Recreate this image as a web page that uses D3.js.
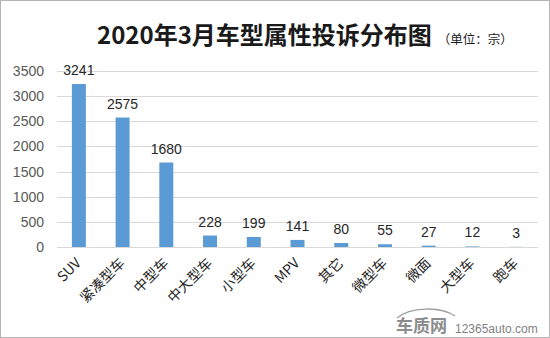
<!DOCTYPE html>
<html>
<head>
<meta charset="utf-8">
<script src="https://cdn.jsdelivr.net/npm/d3@7"></script>
<style>
  html, body { margin: 0; padding: 0; background: #fff; }
  svg { display: block; }
</style>
</head>
<body>
<svg id="chart" width="550" height="338"></svg>
<script>
// Complaint counts by vehicle class, March 2020
const categories = ["SUV", "紧凑型车", "中型车", "中大型车", "小型车", "MPV", "其它", "微型车", "微面", "大型车", "跑车"];
const complaints = [3241, 2575, 1680, 228, 199, 141, 80, 55, 27, 12, 3];
const yTicks = [0, 500, 1000, 1500, 2000, 2500, 3000, 3500];

const W = 550, H = 338;
const margin = { top: 71, right: 12, bottom: 91, left: 57 };

const svg = d3.select("#chart");

// outer frame
svg.append("rect")
  .attr("x", 0.5).attr("y", 0.5)
  .attr("width", W - 1).attr("height", H - 1)
  .attr("fill", "#fff").attr("stroke", "#b4b4b4");

const x = d3.scaleBand()
  .domain(categories)
  .range([margin.left, W - margin.right])
  .paddingInner(0.68).paddingOuter(0.34);

const y = d3.scaleLinear()
  .domain([0, 3500])
  .range([H - margin.bottom, margin.top]);

// horizontal gridlines
svg.append("g")
  .selectAll("line")
  .data(yTicks)
  .join("line")
  .attr("x1", margin.left).attr("x2", W - margin.right)
  .attr("y1", d => Math.round(y(d)) + 0.5).attr("y2", d => Math.round(y(d)) + 0.5)
  .attr("stroke", "#d9d9d9").attr("stroke-width", 1);

// y axis labels
const yAxis = d3.axisLeft(y).tickValues(yTicks).tickFormat(d3.format("d"))
  .tickSize(0).tickPadding(13);
const gy = svg.append("g")
  .attr("transform", `translate(${margin.left},0)`)
  .call(yAxis);
gy.select(".domain").remove();
gy.selectAll("text")
  .attr("fill", "#595959")
  .style("font-family", "'Liberation Sans', Arial, sans-serif")
  .style("font-size", "14px");

// bars
svg.append("g")
  .selectAll("rect")
  .data(categories)
  .join("rect")
  .attr("x", d => x(d))
  .attr("width", x.bandwidth())
  .attr("y", (d, i) => y(complaints[i]))
  .attr("height", (d, i) => y(0) - y(complaints[i]))
  .attr("fill", "#5b9bd5");

// value labels
svg.append("g")
  .selectAll("text")
  .data(categories)
  .join("text")
  .attr("x", d => x(d) + x.bandwidth() / 2)
  .attr("y", (d, i) => y(complaints[i]) - 9)
  .attr("text-anchor", "middle")
  .attr("fill", "#262626")
  .style("font-family", "'Liberation Sans', Arial, sans-serif")
  .style("font-size", "14px")
  .text((d, i) => complaints[i]);

// x axis category labels, rotated
const xAxis = d3.axisBottom(x).tickSize(0).tickPadding(0);
const gx = svg.append("g")
  .attr("transform", `translate(0,${y(0)})`)
  .call(xAxis);
gx.select(".domain").remove();
gx.selectAll("text")
  .attr("text-anchor", "end")
  .attr("dy", "0")
  .attr("transform", "translate(3,17) rotate(-45)")
  .attr("y", 0).attr("x", 0)
  .attr("fill", "#262626")
  .style("font-family", "'Noto Sans CJK SC', 'Liberation Sans', sans-serif")
  .style("font-size", "14px");

// title
const title = svg.append("text")
  .attr("x", 97).attr("y", 44)
  .style("font-family", "'Noto Sans CJK SC', sans-serif")
  .attr("fill", "#1a1a1a");
title.append("tspan")
  .style("font-size", "24px").style("font-weight", "bold")
  .text("2020年3月车型属性投诉分布图");
title.append("tspan")
  .attr("dx", 6)
  .style("font-size", "12.5px")
  .text("（单位：宗）");

// site watermark
const wm = svg.append("g").attr("fill", "#8c8c8c");
wm.append("path")
  .attr("d", "M397,318 C410,307 440,306 455,316")
  .attr("fill", "none").attr("stroke", "#a0a0a0").attr("stroke-width", 1.5);
wm.append("text")
  .attr("x", 396).attr("y", 332)
  .style("font-family", "'Noto Sans CJK SC', sans-serif")
  .style("font-size", "17px").style("font-weight", "bold")
  .text("车质网");
wm.append("text")
  .attr("x", 455).attr("y", 333)
  .attr("fill", "#7f7f7f")
  .style("font-family", "'Liberation Sans', Arial, sans-serif")
  .style("font-size", "12px")
  .text("12365auto.com");
</script>
</body>
</html>
